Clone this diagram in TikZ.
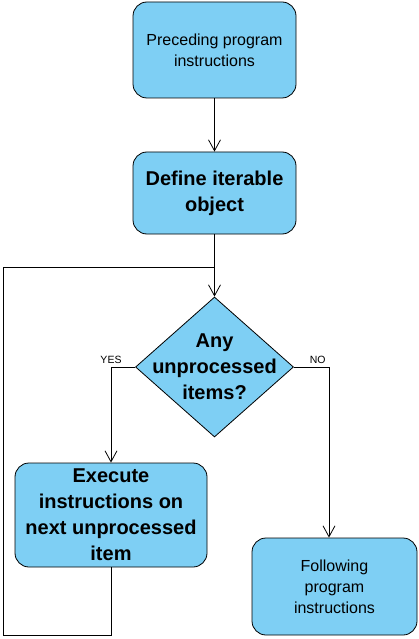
\documentclass[tikz,border=0pt]{standalone}
\usepackage{fontspec}
\setmainfont{Liberation Sans}
\usetikzlibrary{shapes.geometric,arrows.meta}
\definecolor{boxblue}{RGB}{126,207,244}
\tikzset{
  stepbox/.style={draw, fill=boxblue, rounded corners=14pt, align=center,
    line width=0.8pt, font=\fontsize{16}{21}\selectfont},
  boldbox/.style={stepbox, font=\fontsize{20}{26}\selectfont\bfseries},
  flow/.style={-{Straight Barb[length=11pt,width=12pt]}, line width=0.8pt},
  tag/.style={font=\fontsize{10.5}{12}\selectfont, inner sep=3pt}
}
\begin{document}
\begin{tikzpicture}[x=1pt,y=-1pt]
  \useasboundingbox (0,0) rectangle (419,639);
  \node [stepbox, minimum width=163pt, minimum height=96pt] (prec) at (214.5,50)
    {Preceding program\\instructions};
  \node [boldbox, minimum width=163pt, minimum height=82pt] (define) at (214.5,193)
    {Define iterable\\object};
  \node [draw, fill=boxblue, diamond, line width=0.8pt, inner sep=0pt,
    minimum width=158pt, minimum height=140pt,
    label={[font=\fontsize{20}{26}\selectfont\bfseries, align=center]center:Any\\unprocessed\\items?}]
    (test) at (214.5,367) {};
  \node [boldbox, minimum width=192pt, minimum height=104pt] (exec) at (111,515)
    {Execute\\instructions on\\next unprocessed\\item};
  \node [stepbox, minimum width=165pt, minimum height=97pt] (follow) at (334.5,586.5)
    {Following\\program\\instructions};
  \coordinate (join) at (214.5,267);
  % main line
  \draw [flow] (prec) -- (define);
  \draw [flow] (define) -- (join) -- (test);
  % branches
  \draw [flow] (test.west) -| node [tag, above] {YES} (exec.north);
  \draw [flow] (test.east) -| node [tag, above left] {NO} ([xshift=-5.5pt]follow.north);
  % loop back
  \draw [line width=0.8pt] (exec.south) |- (3,635) |- (join);
\end{tikzpicture}
\end{document}
